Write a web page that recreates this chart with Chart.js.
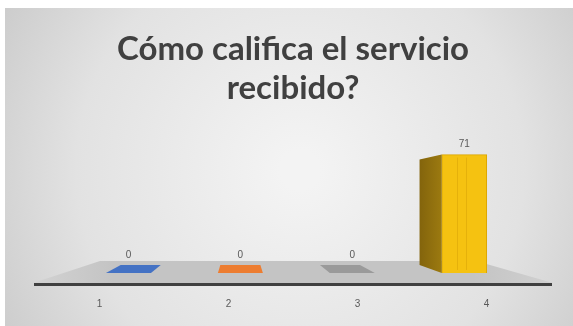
<!DOCTYPE html>
<html>
<head>
<meta charset="utf-8">
<script src="https://cdn.jsdelivr.net/npm/chart.js@4.4.1/dist/chart.umd.min.js"></script>
<style>
  html, body { margin: 0; padding: 0; background: #fff; }
  canvas { display: block; }
</style>
</head>
<body>
<canvas id="ratingChart" width="573" height="326"></canvas>
<script>
const titleLines = ['Cómo califica el servicio', 'recibido?'];
const categories = ['1', '2', '3', '4'];
const responses = [0, 0, 0, 71];
const barColors = ['#4472c4', '#ed7d31', '#9a9a9a', '#f5c211'];
const sideColors = ['#2f528f', '#ae5a21', '#7b7b7b', '#83640c'];

// fake 3D: back corners are pulled toward a vanishing point
const VP = { x: 240, y: 200 };
const DEPTH = 0.11;
const back = (x, y) => [x + (VP.x - x) * DEPTH, y + (VP.y - y) * DEPTH];

const quad = (ctx, pts, fill) => {
    ctx.beginPath();
    ctx.moveTo(pts[0][0], pts[0][1]);
    for (let i = 1; i < pts.length; i++) ctx.lineTo(pts[i][0], pts[i][1]);
    ctx.closePath();
    ctx.fillStyle = fill;
    ctx.fill();
};

const excel3d = {
    id: 'excel3d',
    beforeDraw(chart) {
        const { ctx, width, height } = chart;
        ctx.save();
        ctx.fillStyle = '#ffffff';
        ctx.fillRect(0, 0, width, height);
        const g = ctx.createRadialGradient(300, 170, 20, 300, 170, 360);
        g.addColorStop(0, '#f3f3f3');
        g.addColorStop(0.6, '#e2e2e2');
        g.addColorStop(1, '#c8c8c8');
        ctx.fillStyle = g;
        ctx.fillRect(5, 8, width - 5, height - 8);
        ctx.restore();
    },
    beforeDatasetsDraw(chart) {
        const { ctx, chartArea: a } = chart;
        const fy = a.bottom - 1, by = a.bottom - 23;
        ctx.save();
        const g = ctx.createLinearGradient(a.left, 0, a.right, 0);
        g.addColorStop(0, '#d2d2d2');
        g.addColorStop(0.15, '#c4c4c4');
        g.addColorStop(0.85, '#c4c4c4');
        g.addColorStop(1, '#d0d0d0');
        quad(ctx, [[a.left - 2, fy], [a.left + 65, by], [a.right - 75, by], [a.right + 2, fy]], g);
        ctx.restore();
    },
    afterDatasetsDraw(chart) {
        const { ctx } = chart;
        const meta = chart.getDatasetMeta(0);
        ctx.save();
        meta.data.forEach((el, i) => {
            const { x, y, base, width } = el.getProps(['x', 'y', 'base', 'width'], true);
            const l = x - width / 2, r = x + width / 2;
            if (Math.abs(base - y) < 1) {
                quad(ctx, [[l, base], [r, base], back(r, base), back(l, base)], barColors[i]);
            } else {
                if (back(l, y)[0] < l) {
                    const sg = ctx.createLinearGradient(back(l, y)[0], 0, l, 0);
                    sg.addColorStop(0, sideColors[i]);
                    sg.addColorStop(1, '#9c7a10');
                    quad(ctx, [[l, y], [l, base], back(l, base), back(l, y)], sg);
                }
                if (back(r, y)[0] > r) {
                    quad(ctx, [[r, y], [r, base], back(r, base), back(r, y)], sideColors[i]);
                }
                // faint bevel lines on the front face
                ctx.strokeStyle = 'rgba(200,145,0,0.35)';
                ctx.lineWidth = 1;
                [0.35, 0.55].forEach(f => {
                    ctx.beginPath();
                    ctx.moveTo(l + width * f, y + 3);
                    ctx.lineTo(l + width * f, base - 3);
                    ctx.stroke();
                });
            }
            const top = Math.min(y, back(l, y)[1]);
            ctx.fillStyle = '#595959';
            ctx.font = '10px "Liberation Sans", Arial, sans-serif';
            ctx.textAlign = 'center';
            ctx.textBaseline = 'bottom';
            ctx.fillText(String(responses[i]), x, top - 5);
        });
        ctx.restore();
    }
};

new Chart(document.getElementById('ratingChart'), {
    type: 'bar',
    data: {
        labels: categories,
        datasets: [{
            label: 'Respuestas',
            data: responses.map((v, i) => ({ x: i + 1, y: v })),
            xAxisID: 'xb',
            backgroundColor: barColors,
            borderColor: '#dca600',
            borderWidth: 1,
            barThickness: 45,
        }]
    },
    options: {
        responsive: false,
        animation: false,
        devicePixelRatio: 1,
        layout: {
            padding: { left: 35, right: 22, top: 0, bottom: 2 }
        },
        scales: {
            xb: {
                type: 'linear',
                display: false,
                offset: false,
                min: 0.165,
                max: 4.775,
            },
            x: {
                type: 'category',
                position: 'bottom',
                grid: { display: false, drawTicks: false },
                border: { display: true, color: '#404040', width: 3 },
                ticks: {
                    color: '#595959',
                    padding: 14,
                    font: { family: 'Liberation Sans', size: 10 }
                }
            },
            y: {
                display: false,
                min: -6.6,
                max: 95.4,
            }
        },
        plugins: {
            legend: { display: false },
            tooltip: { enabled: false },
            title: {
                display: true,
                text: titleLines,
                color: '#404040',
                font: { family: 'Lato', size: 33, weight: 'bold', lineHeight: 1.18 },
                padding: { top: 30, bottom: 6 }
            }
        }
    },
    plugins: [excel3d]
});
</script>
</body>
</html>
